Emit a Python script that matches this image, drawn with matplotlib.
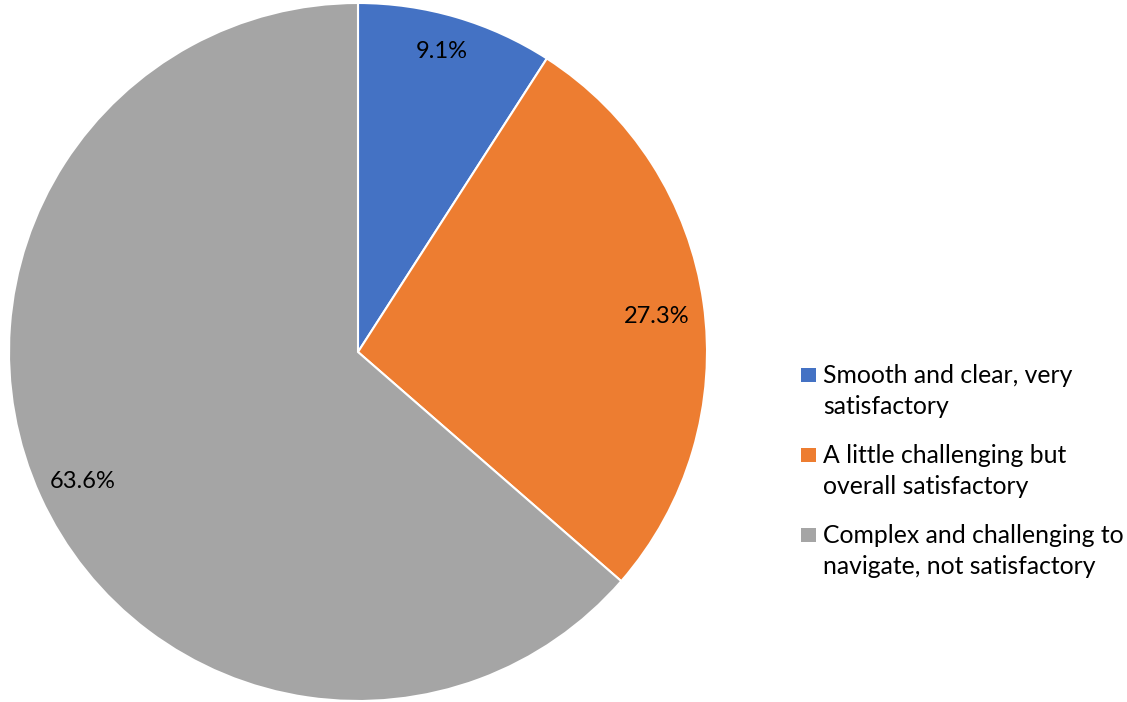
import matplotlib.pyplot as plt
from matplotlib.patches import Rectangle

plt.rcParams["font.family"] = ["Lato", "DejaVu Sans"]

# Dados do gráfico
categorias = [
    "Smooth and clear, very\nsatisfactory",
    "A little challenging but\noverall satisfactory",
    "Complex and challenging to\nnavigate, not satisfactory",
]
valores = [9.1, 27.3, 63.6]
cores = ["#4472C4", "#ED7D31", "#A5A5A5"]

W, H = 1127, 702
fig = plt.figure(figsize=(W / 100, H / 100), dpi=100)
ax = fig.add_axes([9 / W, 1 / H, 698 / W, 698 / H])

fatias, textos, pcts = ax.pie(
    valores,
    colors=cores,
    startangle=90,
    counterclock=False,
    autopct="%1.1f%%",
    pctdistance=0.87,
    radius=1,
    wedgeprops=dict(edgecolor="white", linewidth=1.5),
    textprops=dict(fontsize=17, color="#000000"),
)
# posições dos rótulos como no Excel
pos_rotulos = [(0.241, 0.860), (0.857, 0.103), (-0.788, -0.372)]
for t, p in zip(pcts, pos_rotulos):
    t.set_position(p)

ax.set_xlim(-1, 1)
ax.set_ylim(-1, 1)
ax.set_aspect("equal")
ax.axis("off")

# Legenda manual (quadrado alinhado com a primeira linha)
base_y = 383
passo = 80
for i, (cat, cor) in enumerate(zip(categorias, cores)):
    y0 = base_y + i * passo
    fig.patches.append(
        Rectangle((801 / W, 1 - (y0 - 1) / H), 15 / W, 14 / H,
                  transform=fig.transFigure, facecolor=cor, edgecolor="none")
    )
    for j, linha in enumerate(cat.split("\n")):
        fig.text(823 / W, 1 - (y0 + j * 31) / H, linha, fontsize=17.8,
                 ha="left", va="baseline", color="#000000")

plt.savefig("out.png", dpi=100)
